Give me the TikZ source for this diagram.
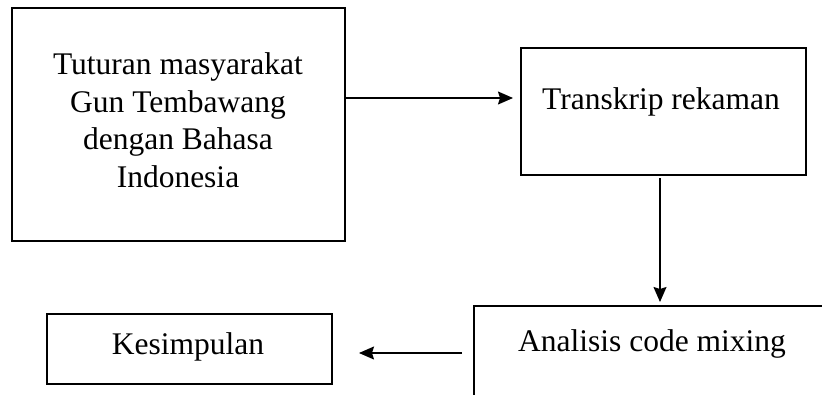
\documentclass[tikz,border=0pt]{standalone}
\usepackage{fontspec}
\setmainfont{Liberation Serif}
\usetikzlibrary{arrows.meta}
\begin{document}
\begin{tikzpicture}[x=1pt,y=-1pt,
  box/.style={draw, line width=1.2pt, inner sep=0pt, outer sep=0pt},
  txt/.style={inner sep=0pt, font=\fontsize{31.5}{37.5}\selectfont, align=center},
  arr/.style={line width=1.3pt, -{Stealth[length=15pt,width=13pt,inset=2pt]}}]
\useasboundingbox (0,0) rectangle (822,394);
\clip (0,0) rectangle (822,394);
% boxes
\node[box, minimum width=333pt, minimum height=233pt] (b1) at (178.5,124.5) {};
\node[box, minimum width=285pt, minimum height=127pt] (b2) at (663.5,111.5) {};
\node[box, minimum width=366pt, minimum height=104pt] (b3) at (657,358) {};
\node[box, minimum width=285pt, minimum height=70pt] (b4) at (189.5,349) {};
% texts
\node[txt, anchor=center] (t1) at (178,120) {Tuturan masyarakat\\Gun Tembawang\\dengan Bahasa\\Indonesia};
\node[txt, anchor=base] (t2) at (661,109) {Transkrip rekaman};
\node[txt, anchor=base] (t3) at (652,351) {Analisis code mixing};
\node[txt, anchor=base] (t4) at (188,354) {Kesimpulan};
% connectors
\coordinate (y1) at (0,98);
\coordinate (x2) at (660,0);
\coordinate (y3) at (0,353);
\draw[arr, shorten >=8pt] (b1.east |- y1) -- (b2.west |- y1);
\draw[arr, shorten <=3pt, shorten >=4pt] (b2.south -| x2) -- (b3.north -| x2);
\draw[arr, shorten <=12pt, shorten >=27pt] (b3.west |- y3) -- (b4.east |- y3);
\end{tikzpicture}
\end{document}
